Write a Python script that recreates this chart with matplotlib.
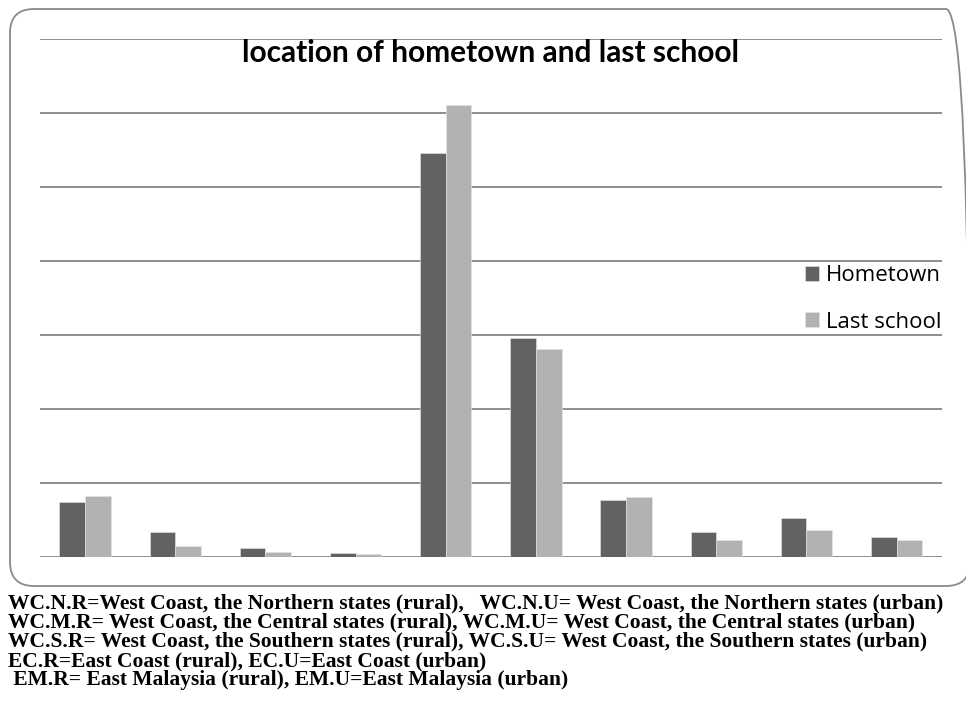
import matplotlib
matplotlib.use("Agg")
import matplotlib.pyplot as plt
import numpy as np
from matplotlib.patches import FancyBboxPatch
from matplotlib.transforms import IdentityTransform

# ---- data ----
categories = ["WC.N.R", "WC.N.U", "WC.M.R", "WC.M.U", "WC.S.R",
              "WC.S.U", "EC.R", "EC.U", "EM.R", "EM.U"]
hometown = [7.4, 3.4, 1.2, 0.5, 54.6, 29.6, 7.6, 3.4, 5.2, 2.6]
last_school = [8.2, 1.4, 0.6, 0.4, 61.0, 28.0, 8.0, 2.2, 3.6, 2.2]
series_names = ["Hometown", "Last school"]
title = "location of hometown and last school"
footnotes = [
    "WC.N.R=West Coast, the Northern states (rural),   WC.N.U= West Coast, the Northern states (urban)",
    "WC.M.R= West Coast, the Central states (rural), WC.M.U= West Coast, the Central states (urban)",
    "WC.S.R= West Coast, the Southern states (rural), WC.S.U= West Coast, the Southern states (urban)",
    "EC.R=East Coast (rural), EC.U=East Coast (urban)",
    " EM.R= East Malaysia (rural), EM.U=East Malaysia (urban)",
]

W, H = 966, 717
fig = plt.figure(figsize=(W / 100, H / 100), dpi=100)

# rounded chart frame (pixel coordinates)
frame = FancyBboxPatch((10, H - 586), 960, 577,
                       boxstyle="round,pad=0,rounding_size=24",
                       transform=IdentityTransform(), facecolor="none",
                       edgecolor="#8a8a8a", linewidth=1.3, zorder=-1)
fig.patches.append(frame)

# axes
left, right, top, bottom = 40, 941.7, 38.5, 556.7
ax = fig.add_axes([left / W, (H - bottom) / H, (right - left) / W, (bottom - top) / H])
ax.set_facecolor("none")
x = np.arange(len(categories))
bw = 0.285
ax.bar(x - bw / 2, hometown, width=bw, color="#626262", edgecolor="#e6e6e6",
       linewidth=0.4, label=series_names[0], zorder=3)
ax.bar(x + bw / 2, last_school, width=bw, color="#b2b2b2", edgecolor="#e6e6e6",
       linewidth=0.4, label=series_names[1], zorder=3)
ax.set_xlim(-0.5, len(categories) - 0.5)
ax.set_ylim(0, 70)
ax.set_yticks(np.arange(0, 71, 10))
ax.set_xticks(x)
ax.set_xticklabels([])
ax.set_yticklabels([])
ax.tick_params(length=0)
ax.grid(axis="y", color="#868686", linewidth=1.3, zorder=1)
for s in ax.spines.values():
    s.set_visible(False)

ax.text(0.5, 1.0 - 0.5 / (bottom - top), title, transform=ax.transAxes, ha="center", va="top",
        fontsize=21.5, fontweight="bold", family="Lato", zorder=5)

leg = ax.legend(loc="upper right", bbox_to_anchor=(1.0, 0.562), frameon=False,
                prop={"family": "Open Sans", "size": 16}, handlelength=0.63,
                handleheight=0.63, handletextpad=0.32, labelspacing=1.13,
                borderaxespad=0, borderpad=0)

# footnotes
fig.canvas.draw()
r = fig.canvas.get_renderer()
fs = 12
t = fig.text(8 / W, 1 - 603 / H, footnotes[0], fontsize=fs, family="Liberation Serif",
             fontweight="bold", va="center", ha="left")
wpx = t.get_window_extent(r).width
fs = fs * 925 / wpx
t.set_fontsize(fs)
ys = [603, 622.5, 641.5, 661, 680]
for line, yy in zip(footnotes[1:], ys[1:]):
    fig.text(8 / W, 1 - yy / H, line, fontsize=fs, family="Liberation Serif",
             fontweight="bold", va="center", ha="left")

fig.savefig("out.png", dpi=100)
